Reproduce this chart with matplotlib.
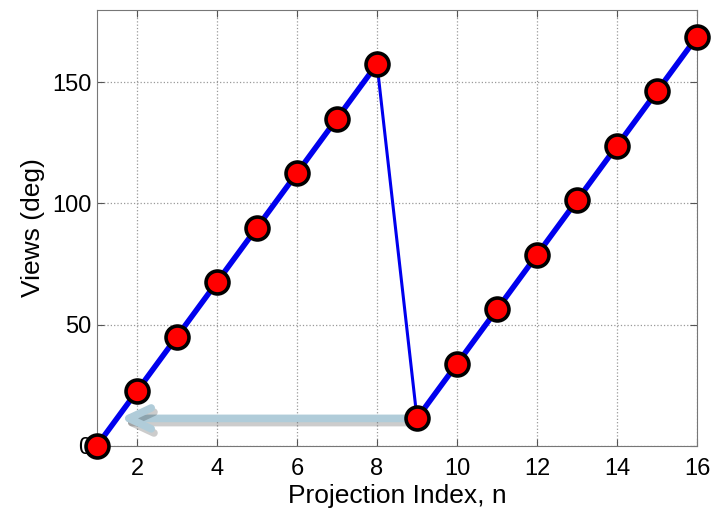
import numpy as np
import matplotlib
matplotlib.use('Agg')
import matplotlib.pyplot as plt
import matplotlib.patheffects as pe

plt.rcParams['font.family'] = ['Liberation Sans', 'DejaVu Sans']

n = [1, 2, 3, 4, 5, 6, 7, 8, 9, 10, 11, 12, 13, 14, 15, 16]
views = [0, 22.5, 45, 67.5, 90, 112.5, 135, 157.5,
         11.25, 33.75, 56.25, 78.75, 101.25, 123.75, 146.25, 168.75]
xticks = [2, 4, 6, 8, 10, 12, 14, 16]
yticks = [0, 50, 100, 150]

fig = plt.figure(figsize=(7.13, 5.17), dpi=100)
ax = fig.add_axes([0.136, 0.138, 0.8416, 0.8436])

# thin jump from n=8 to n=9, thick lines for the two ramps
ax.plot(n[7:9], views[7:9], color='#0000ee', lw=2.2, zorder=2)
ax.plot(n[:8], views[:8], color='#0000ee', lw=4, zorder=2)
ax.plot(n[8:], views[8:], color='#0000ee', lw=4, zorder=2)
ax.plot(n, views, 'o', color='red', ms=16.5, mec='black', mew=2.6,
        ls='none', zorder=4, clip_on=False)

# arrow going back from n=9 toward n=1
ax.annotate('', xy=(1.575, views[8]), xytext=(8.8, views[8]),
            arrowprops=dict(arrowstyle='->, head_length=1.6, head_width=0.75',
                            color='#b0ccd9', lw=5.5, shrinkA=0, shrinkB=0,
                            path_effects=[pe.SimpleLineShadow(offset=(2, -3), alpha=0.2),
                                          pe.Normal()]),
            zorder=3)

ax.set_xlim(1, 16)
ax.set_ylim(0, 180)
ax.set_xticks(xticks)
ax.set_yticks(yticks)
ax.tick_params(direction='in', top=True, right=True, labelsize=17, length=5,
               color='#555555')
ax.tick_params(axis='x', pad=9)
ax.tick_params(axis='y', pad=4)
ax.grid(True, ls=':', color='#999999', lw=0.9)
for s in ax.spines.values():
    s.set_color('#777777')
ax.set_xlabel('Projection Index, n', fontsize=19, labelpad=3)
ax.set_ylabel('Views (deg)', fontsize=19, labelpad=5)

fig.savefig('out.png', dpi=100)
plt.close('all')
